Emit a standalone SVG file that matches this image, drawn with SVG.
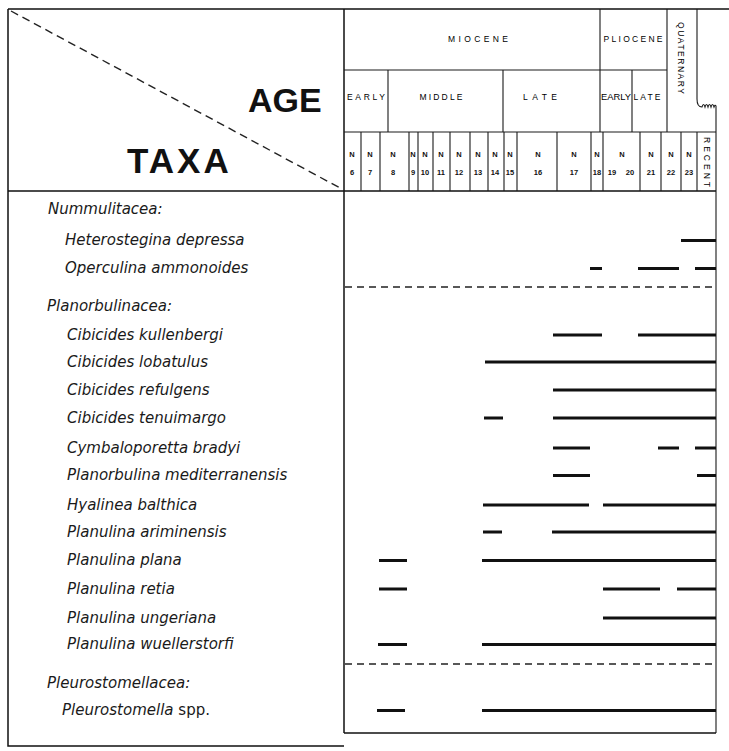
<svg xmlns="http://www.w3.org/2000/svg" width="729" height="751" viewBox="0 0 729 751">
<style>
.frame{stroke:#111;stroke-width:1.5;fill:none}
.thin{stroke:#1a1a1a;stroke-width:1.1;fill:none}
.dash{stroke:#222;stroke-width:1.3;stroke-dasharray:7 5;fill:none}
.diag{stroke:#222;stroke-width:1.4;stroke-dasharray:8 5;fill:none}
.bar{stroke:#111;stroke-width:2.9;stroke-linecap:butt}
.hd{font-family:"Liberation Sans",Arial,sans-serif;font-size:8.5px;fill:#000;text-anchor:middle}
.nz{font-family:"Liberation Sans",Arial,sans-serif;font-size:7.5px;font-weight:bold;fill:#111;text-anchor:middle}
.big{font-family:"Liberation Sans",Arial,sans-serif;font-weight:bold;fill:#111}
.tx{font-family:"DejaVu Sans",Verdana,sans-serif;font-style:italic;font-size:15px;fill:#1a1a1a}
</style>
<rect width="729" height="751" fill="#fff"/>
<g id="header-left">
<path class="frame" d="M8,9 H729 M8,9 V746 H344 M344,9 V733 M8,191 H716"/>
<path class="diag" d="M11,11 L342,189"/>
<text class="big" x="248" y="112" font-size="34">AGE</text>
<text class="big" x="127" y="173" font-size="35" letter-spacing="3">TAXA</text>
</g>
<g id="header-age">
<path class="thin" d="M344,70 H667 M600,9 V132 M667,9 V132 M344,132 H716"/>
<path class="thin" d="M697,9 V99 Q697,107 702,107 q1.5,-5 3,0 q1.5,-5 3,0 q1.5,-5 3,0 q1.5,-5 3,0 q1,-3 2,-1 V733"/>
<path class="thin" d="M388,70 V132 M503,70 V132 M632,70 V132"/>
<path class="thin" d="M361,132 V191 M380,132 V191 M409,132 V191 M418,132 V191 M433,132 V191 M450,132 V191 M470,132 V191 M488,132 V191 M504,132 V191 M517,132 V191 M557,132 V191 M591,132 V191 M603,132 V191 M640,132 V191 M661,132 V191 M681,132 V191 M697,132 V191"/>
<text class="hd" x="478" y="42" textLength="60" lengthAdjust="spacing">MIOCENE</text>
<text class="hd" x="633" y="42" textLength="59" lengthAdjust="spacing">PLIOCENE</text>
<text class="hd" x="678" y="58" textLength="72" lengthAdjust="spacing" transform="rotate(90 678 58)">QUATERNARY</text>
<text class="hd" x="366" y="100" textLength="38" lengthAdjust="spacing">EARLY</text>
<text class="hd" x="441" y="100" textLength="43" lengthAdjust="spacing">MIDDLE</text>
<text class="hd" x="540" y="100" textLength="34" lengthAdjust="spacing">LATE</text>
<text class="hd" x="616" y="100" textLength="30" lengthAdjust="spacingAndGlyphs">EARLY</text>
<text class="hd" x="647" y="100" textLength="27" lengthAdjust="spacing">LATE</text>
<text class="hd" x="704" y="162" textLength="50" lengthAdjust="spacing" transform="rotate(90 704 162)" font-size="9">RECENT</text>
</g>
<g id="zones" class="nz">
<text x="352" y="157">N</text><text x="352" y="175">6</text>
<text x="370" y="157">N</text><text x="370" y="175">7</text>
<text x="393" y="157">N</text><text x="393" y="175">8</text>
<text x="413" y="157">N</text><text x="413" y="175">9</text>
<text x="425" y="157">N</text><text x="425" y="175">10</text>
<text x="441" y="157">N</text><text x="441" y="175">11</text>
<text x="459" y="157">N</text><text x="459" y="175">12</text>
<text x="478" y="157">N</text><text x="478" y="175">13</text>
<text x="495" y="157">N</text><text x="495" y="175">14</text>
<text x="510" y="157">N</text><text x="510" y="175">15</text>
<text x="538" y="157">N</text><text x="538" y="175">16</text>
<text x="574" y="157">N</text><text x="574" y="175">17</text>
<text x="597" y="157">N</text><text x="597" y="175">18</text>
<text x="622" y="157">N</text><text x="612" y="175">19</text><text x="630" y="175">20</text>
<text x="651" y="157">N</text><text x="651" y="175">21</text>
<text x="671" y="157">N</text><text x="671" y="175">22</text>
<text x="689" y="157">N</text><text x="689" y="175">23</text>
</g>
<g id="chart-frame">
<path class="frame" d="M344,733 H716"/>
<path class="dash" d="M345,287 H716 M345,664 H716"/>
</g>
<g id="taxa">
<text class="tx" x="48" y="214">Nummulitacea:</text>
<text class="tx" x="65" y="245">Heterostegina depressa</text>
<text class="tx" x="65" y="273">Operculina ammonoides</text>
<text class="tx" x="47" y="311">Planorbulinacea:</text>
<text class="tx" x="67" y="339.5">Cibicides kullenbergi</text>
<text class="tx" x="67" y="366.5">Cibicides lobatulus</text>
<text class="tx" x="67" y="394.5">Cibicides refulgens</text>
<text class="tx" x="67" y="422.5">Cibicides tenuimargo</text>
<text class="tx" x="67" y="452.5">Cymbaloporetta bradyi</text>
<text class="tx" x="67" y="480">Planorbulina mediterranensis</text>
<text class="tx" x="67" y="509.5">Hyalinea balthica</text>
<text class="tx" x="67" y="536.5">Planulina ariminensis</text>
<text class="tx" x="67" y="565">Planulina plana</text>
<text class="tx" x="67" y="593.5">Planulina retia</text>
<text class="tx" x="67" y="622.5">Planulina ungeriana</text>
<text class="tx" x="67" y="649">Planulina wuellerstorfi</text>
<text class="tx" x="47" y="688">Pleurostomellacea:</text>
<text class="tx" x="62" y="715">Pleurostomella <tspan font-style="normal">spp.</tspan></text>
</g>
<g id="ranges" class="bar">
<path d="M681,240.5 H716"/>
<path d="M590,268.5 H602 M638,268.5 H679 M695,268.5 H716"/>
<path d="M553,335 H602 M638,335 H716"/>
<path d="M485,362 H716"/>
<path d="M553,390 H716"/>
<path d="M484,418 H503 M553,418 H716"/>
<path d="M553,448 H590 M658,448 H679 M695,448 H716"/>
<path d="M553,475.5 H590 M697,475.5 H716"/>
<path d="M483,505 H589 M603,505 H716"/>
<path d="M483,532 H502 M552,532 H716"/>
<path d="M379,560.5 H407 M482,560.5 H716"/>
<path d="M379,589 H407 M603,589 H660 M677,589 H716"/>
<path d="M603,618 H716"/>
<path d="M378,644.5 H407 M482,644.5 H716"/>
<path d="M377,710.5 H405 M482,710.5 H716"/>
</g>
</svg>
